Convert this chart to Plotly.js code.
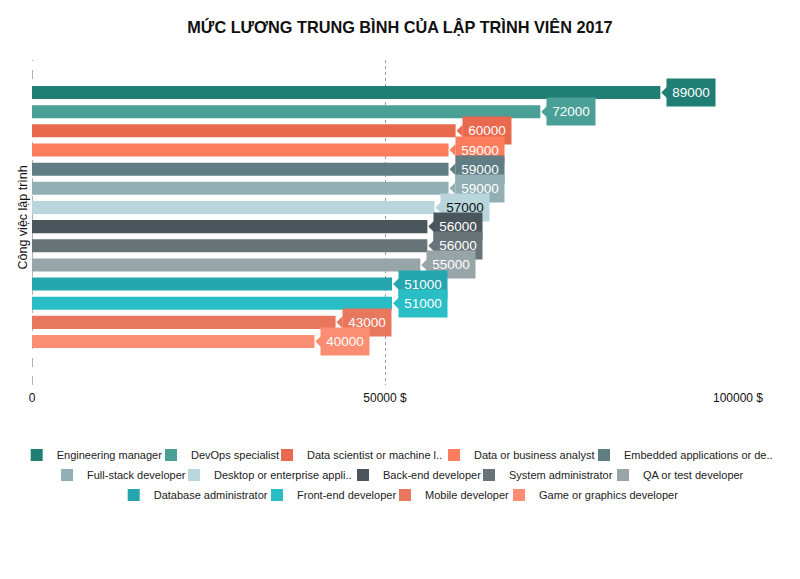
<!DOCTYPE html>
<html>
<head>
<meta charset="utf-8">
<script src="https://cdn.plot.ly/plotly-3.0.1.min.js"></script>
<style>html,body{margin:0;padding:0;background:#fff;}#chart{width:800px;height:579px;}</style>
</head>
<body>
<div id="chart"></div>
<script>
const jobs = [
  "Engineering manager",
  "DevOps specialist",
  "Data scientist or machine l..",
  "Data or business analyst",
  "Embedded applications or de..",
  "Full-stack developer",
  "Desktop or enterprise appli..",
  "Back-end developer",
  "System administrator",
  "QA or test developer",
  "Database administrator",
  "Front-end developer",
  "Mobile developer",
  "Game or graphics developer"
];
const salaries = [89000, 72000, 60000, 59000, 59000, 59000, 57000, 56000, 56000, 55000, 51000, 51000, 43000, 40000];
const colors = ["#217e75", "#4aa096", "#e8694d", "#fc7d5e", "#5f7d82", "#92b0b4", "#b8d6dc",
                "#4a565c", "#687477", "#98a5a8", "#25a6ae", "#29bec6", "#e8775e", "#fb8d72"];
const labelColors = ["#fff", "#fff", "#fff", "#fff", "#fff", "#fff", "#111",
                     "#fff", "#fff", "#fff", "#fff", "#fff", "#fff", "#fff"];
const tickVals = [0, 50000, 100000];
const tickText = ["0", "50000 $", "100000 $"];

const FONT = "Liberation Sans, Arial, sans-serif";

// legend layout: text start (px) and row centre (px) of each legend entry
const legendTextX = [55.7, 190, 306, 473, 623, 86, 213, 382, 508, 642, 152.7, 296, 424, 538];
const legendRowY  = [455, 455, 455, 455, 455, 475, 475, 475, 475, 475, 495, 495, 495, 495];

const legendId = i => (i === 0 ? "legend" : "legend" + (i + 1));

const traces = jobs.map((j, i) => ({
  type: "bar",
  orientation: "h",
  name: j,
  legend: legendId(i),
  x: [salaries[i]],
  y: [j],
  width: 0.68,
  marker: {color: colors[i], line: {width: 0}},
  hoverinfo: "x+name"
}));

const annotations = jobs.map((j, i) => ({
  x: salaries[i],
  y: j,
  xref: "x",
  yref: "y",
  text: String(salaries[i]),
  showarrow: true,
  ax: 6,
  ay: 0,
  arrowhead: 1,
  arrowwidth: 2,
  arrowsize: 1,
  arrowcolor: colors[i],
  standoff: 1,
  xanchor: "left",
  yanchor: "middle",
  width: 48,
  height: 27,
  align: "center",
  valign: "middle",
  bgcolor: colors[i],
  borderpad: 0,
  font: {family: FONT, size: 13.5, color: labelColors[i]}
}));

annotations.push({
  text: "Công việc lập trình",
  xref: "paper", yref: "paper",
  x: (22.5 - 32) / 706, y: (385 - 218) / 325,
  xanchor: "center", yanchor: "middle",
  textangle: -90, showarrow: false,
  font: {family: FONT, size: 12.5, color: "#111"}
});

const layout = {
  width: 800,
  height: 579,
  margin: {l: 32, r: 62, t: 60, b: 194},
  paper_bgcolor: "#fff",
  plot_bgcolor: "#fff",
  font: {family: FONT, size: 12, color: "#222"},
  title: {
    text: "<b>MỨC LƯƠNG TRUNG BÌNH CỦA LẬP TRÌNH VIÊN 2017</b>",
    font: {family: FONT, size: 16.3, color: "#111"},
    x: 0.5, xanchor: "center", y: 0.953, yanchor: "middle"
  },
  barmode: "overlay",
  showlegend: true,
  xaxis: {
    range: [0, 100000],
    tickvals: tickVals,
    ticktext: tickText,
    showgrid: true,
    gridcolor: "#9a9a9a",
    griddash: "dot",
    gridwidth: 1,
    zeroline: false,
    showline: false,
    ticks: "outside",
    ticklen: 2,
    tickcolor: "rgba(0,0,0,0)",
    tickfont: {family: FONT, size: 12, color: "#111"},
    fixedrange: true
  },
  yaxis: {
    type: "category",
    categoryorder: "array",
    categoryarray: jobs,
    range: [15.27, -1.70],
    showticklabels: false,
    showgrid: false,
    zeroline: false,
    showline: false,
    ticks: "",
    automargin: false,
    fixedrange: true
  },
  shapes: [{
    type: "line", xref: "x", yref: "paper", x0: 0, x1: 0, y0: 0, y1: 1,
    line: {color: "#666", width: 1, dash: "dash"}, layer: "below"
  }],
  annotations: annotations
};

jobs.forEach((j, i) => {
  layout[legendId(i)] = {
    orientation: "h",
    xref: "container", yref: "container",
    x: (legendTextX[i] - 39) / 800,
    y: 1 - legendRowY[i] / 579,
    xanchor: "left", yanchor: "middle",
    bgcolor: "rgba(0,0,0,0)",
    borderwidth: 0,
    font: {family: FONT, size: 11, color: "#222"},
    itemclick: false, itemdoubleclick: false
  };
});

Plotly.newPlot("chart", traces, layout, {displayModeBar: false});
</script>
</body>
</html>
